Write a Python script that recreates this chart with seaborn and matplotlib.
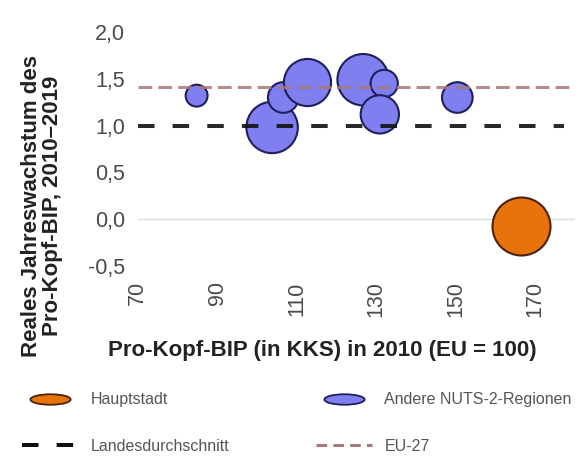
import matplotlib
matplotlib.use("Agg")
import matplotlib.pyplot as plt
from matplotlib.lines import Line2D
from matplotlib.path import Path
from matplotlib.transforms import Affine2D
import seaborn as sns
import pandas as pd

# Andere NUTS-2-Regionen
bip_2010 = [84.8, 103.8, 106.6, 112.7, 126.7, 132.0, 130.9, 150.4]
wachstum = [1.32, 0.98, 1.30, 1.46, 1.49, 1.45, 1.12, 1.30]
bevoelkerung = [0.40, 2.20, 0.78, 1.85, 2.20, 0.62, 1.22, 0.78]

# Hauptstadt
haupt_bip = [166.4]
haupt_wachstum = [-0.07]
haupt_bevoelkerung = [2.80]

landesdurchschnitt = 1.0
eu27 = 1.41

x_ticks = [70, 90, 110, 130, 150, 170]
y_ticks = [-0.5, 0.0, 0.5, 1.0, 1.5, 2.0]

df_reg = pd.DataFrame({"bip": bip_2010, "wachstum": wachstum, "pop": bevoelkerung})
df_haupt = pd.DataFrame({"bip": haupt_bip, "wachstum": haupt_wachstum, "pop": haupt_bevoelkerung})

sns.set_theme(style="white")
plt.rcParams['font.family'] = ['Liberation Sans', 'DejaVu Sans']

purple = '#7f7ff0'
purple_edge = '#1f1f5c'
orange = '#e8720c'
orange_edge = '#4a2308'
pink = '#a87878'

fig = plt.figure(figsize=(5.79, 4.57), dpi=100)
ax = fig.add_axes([0.238, 0.418, 0.755, 0.512])

ax.axhline(0, color='#dddddd', lw=1, zorder=0)

norm = (0, max(haupt_bevoelkerung))
smax = 1745
sns.scatterplot(data=df_reg, x='bip', y='wachstum', size='pop', sizes=(0, smax),
                size_norm=norm, color=purple, edgecolor=purple_edge, linewidth=1.5,
                legend=False, ax=ax, zorder=2)
sns.scatterplot(data=df_haupt, x='bip', y='wachstum', size='pop', sizes=(0, smax),
                size_norm=norm, color=orange, edgecolor=orange_edge, linewidth=1.5,
                legend=False, ax=ax, zorder=2)

# Referenzlinien
ax.axhline(landesdurchschnitt, color='#111111', lw=2.9, dashes=(4.1, 4.5),
           alpha=0.9, zorder=3, xmax=0.975)
ax.axhline(eu27, color=pink, lw=2.2, dashes=(4.5, 2.0), alpha=0.85, zorder=3)

ax.set_xlim(70, 180)
ax.set_ylim(-0.5, 2.0)
ax.set_xticks(x_ticks)
ax.set_xticklabels([str(t) for t in x_ticks], rotation=90)
ax.set_yticks(y_ticks)
ax.set_yticklabels([f"{t:.1f}".replace('.', ',') for t in y_ticks])
ax.tick_params(axis='both', labelsize=15.5, labelcolor='#4a4a4a', length=0)
ax.tick_params(axis='y', pad=9)
ax.tick_params(axis='x', pad=11)
for s in ax.spines.values():
    s.set_visible(False)
ax.set_xlabel('')
ax.set_ylabel('')

fig.text(0.556, 0.234, 'Pro-Kopf-BIP (in KKS) in 2010 (EU = 100)', fontsize=16,
         fontweight='bold', color='#222222', ha='center', va='center')
fig.text(0.073, 0.549, 'Reales Jahreswachstum des\nPro-Kopf-BIP, 2010–2019', fontsize=16,
         fontweight='bold', color='#222222', ha='center', va='center', rotation=90,
         linespacing=1.0)

ell = Path.unit_circle().transformed(Affine2D().scale(1.0, 0.26))
handles = [
    Line2D([], [], ls='none', marker=ell, markersize=29, markerfacecolor=orange,
           markeredgecolor=orange_edge, markeredgewidth=1.3),
    Line2D([], [], color='#111111', lw=2.9, dashes=(4.1, 4.5)),
    Line2D([], [], ls='none', marker=ell, markersize=29, markerfacecolor=purple,
           markeredgecolor=purple_edge, markeredgewidth=1.3),
    Line2D([], [], color=pink, lw=2.2, dashes=(3.5, 2.0)),
]
labels = ['Hauptstadt', 'Landesdurchschnitt', 'Andere NUTS-2-Regionen', 'EU-27']
leg = fig.legend(handles, labels, ncol=2, loc='upper left', bbox_to_anchor=(0.038, 0.142),
                 frameon=False, fontsize=11.5, handlelength=3.5, handletextpad=0.8,
                 columnspacing=5.4, labelspacing=2.0, labelcolor='#555555',
                 borderpad=0, borderaxespad=0)

fig.savefig('out.png', dpi=100)
